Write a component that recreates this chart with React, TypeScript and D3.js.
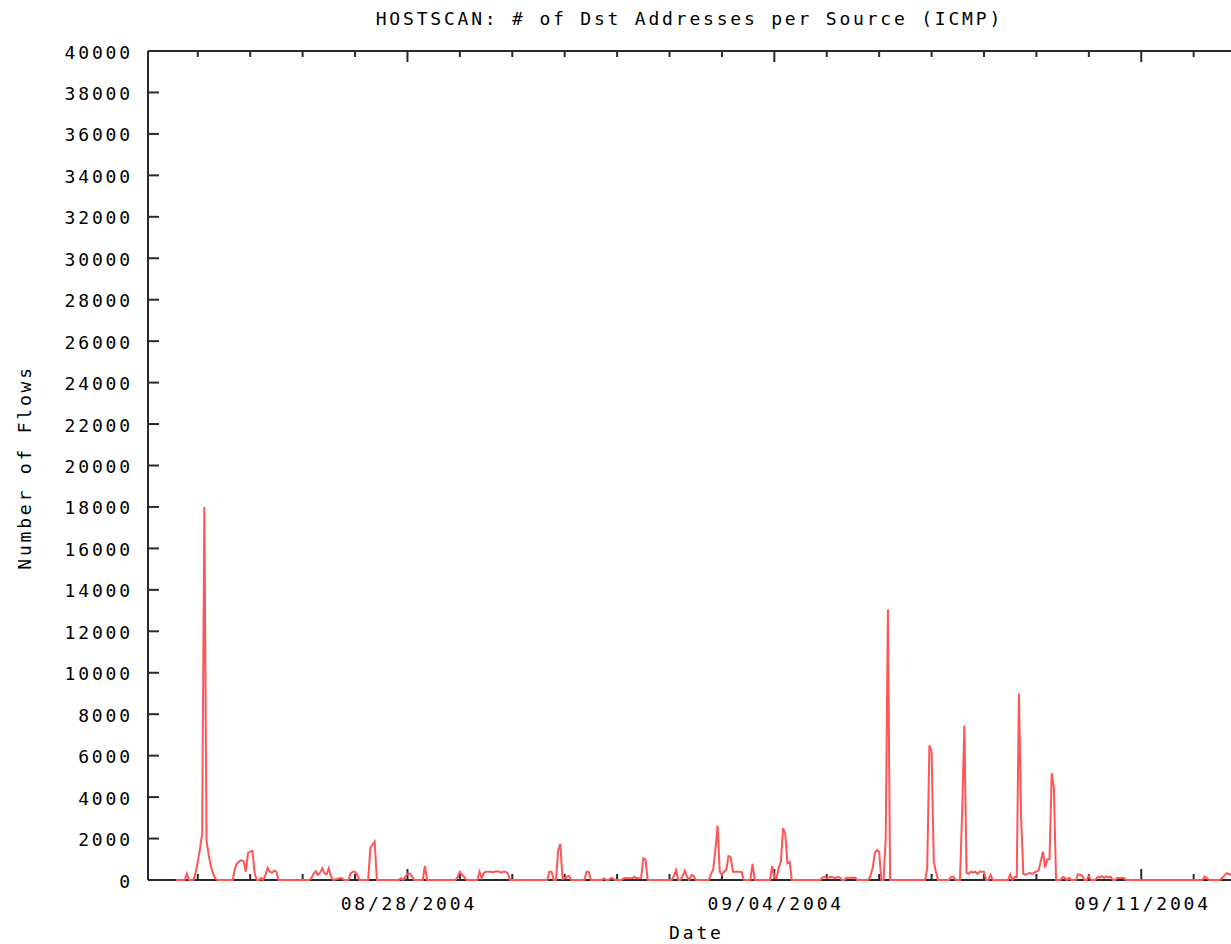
import React from 'react';
import * as d3 from 'd3';

const TITLE = 'HOSTSCAN: # of Dst Addresses per Source (ICMP)';
const X_LABEL = 'Date';
const Y_LABEL = 'Number of Flows';

// time origin: hours below are counted from 2004-08-23 00:00
const START_MS = Date.UTC(2004, 7, 23, 0, 0);
const DOMAIN_START = Date.UTC(2004, 7, 23, 1, 12);
const DOMAIN_END = Date.UTC(2004, 8, 12, 23, 3);

const hours = [
  14,
  18, 19, 20,
  22, 23, 24, 25, 26, 27, 28, 29, 30, 31, 32, 33,
  40, 41, 42, 43, 44, 45, 46, 47, 48, 49, 50, 51,
  52, 53, 54, 55, 56, 57, 58, 59, 60, 61,
  75, 76, 77, 78, 79, 80, 81, 82, 83, 84, 85, 86,
  89, 90, 91,
  93, 94, 95, 96, 97, 98,
  102, 103, 104, 105, 106,
  116, 117, 118, 119, 120, 121, 122, 123,
  127, 128, 129,
  142, 143, 144, 145, 146, 147,
  152, 153, 154, 155, 156, 157, 158, 159, 160, 161, 162, 163, 164, 165, 166, 167,
  184, 185, 186, 187, 188, 189, 190, 191, 192, 193, 194, 195,
  201, 202, 203, 204,
  209, 210, 211,
  212, 213, 214, 215,
  218, 219, 220, 221, 222, 223, 224, 225, 226, 227, 228, 229, 230,
  241, 242, 243, 244,
  245, 246, 247, 248, 249, 250, 251, 252,
  258, 259, 260, 261, 262, 263, 264, 265, 266, 267, 268, 269, 270, 271, 272, 273, 274,
  277, 278, 279,
  286, 287, 288, 289, 290, 291, 292, 293, 294, 295, 296,
  309, 310, 311, 312, 313, 314, 315, 316, 317, 318, 319,
  320, 321, 322, 323, 324, 325, 326,
  331, 332, 333, 334, 335, 336, 337,
  338, 339, 340, 341,
  357, 358, 359, 360, 361, 362, 363,
  368, 369, 370, 371,
  373, 374, 375, 376, 377, 378, 379, 380, 381, 382, 383, 384, 385,
  386, 387, 388,
  395, 396, 397, 398, 399, 400, 401, 402, 403, 404, 405, 406, 407, 408, 409, 410, 411, 412, 413, 414, 415, 416, 417,
  419, 420, 421, 422, 423, 424,
  426, 427, 428, 429, 430, 431, 432, 433,
  435, 436, 437, 438, 439, 440, 441, 442, 443,
  444, 445, 446, 447, 448, 449,
  484, 485, 486, 487,
  492, 493, 494, 495, 496, 497, 498, 499, 503,
];

const flows = [
  0,
  0, 300, 0,
  0, 320, 900, 1500, 2250, 18000, 1900, 1200, 650, 300, 80, 0,
  0, 560, 800, 900, 960, 900, 400, 1290, 1370, 1410, 350, 0,
  0, 100, 0, 250, 580, 400, 350, 450, 400, 0,
  0, 80, 300, 420, 250, 350, 560, 320, 280, 560, 150, 0,
  80, 80, 0,
  0, 320, 400, 400, 250, 0,
  0, 1550, 1700, 1850, 0,
  0, 80, 0, 150, 300, 320, 200, 0,
  0, 680, 0,
  0, 150, 400, 250, 150, 0,
  0, 400, 100, 350, 400, 400, 400, 380, 400, 420, 400, 350, 400, 400, 300, 0,
  0, 400, 400, 0, 0, 1400, 1750, 50, 100, 150, 200, 0,
  0, 400, 400, 0,
  0, 80, 0,
  0, 80, 80, 0,
  0, 80, 100, 80, 80, 100, 150, 80, 80, 100, 1050, 980, 0,
  0, 200, 480, 0,
  0, 200, 450, 150, 0, 240, 200, 0,
  0, 300, 500, 1450, 2620, 400, 250, 400, 500, 1160, 1100, 400, 400, 400, 400, 380, 0,
  0, 780, 0,
  0, 680, 100, 100, 600, 900, 2500, 2250, 800, 880, 0,
  0, 120, 150, 100, 120, 150, 120, 100, 150, 120, 0,
  0, 110, 110, 110, 110, 110, 0,
  0, 200, 560, 1300, 1450, 1350, 0,
  0, 2050, 13050, 0,
  0, 560, 6500, 6200, 880, 400, 0,
  0, 160, 160, 0,
  0, 3300, 7450, 350, 300, 400, 350, 400, 300, 400, 400, 400, 0,
  0, 250, 0,
  0, 270, 0, 150, 150, 9000, 3000, 300, 250, 300, 350, 300, 350, 400, 450, 900, 1370, 600, 1000, 1000, 5150, 4450, 0,
  0, 150, 100, 0, 100, 0,
  0, 270, 250, 200, 0, 0, 190, 0,
  0, 150, 120, 190, 100, 170, 130, 150, 0,
  0, 100, 100, 100, 100, 0,
  0, 160, 100, 0,
  0, 100, 200, 320, 300, 250, 200, 150, 0,
];

const yTicks = [0, 2000, 4000, 6000, 8000, 10000, 12000, 14000, 16000, 18000, 20000,
  22000, 24000, 26000, 28000, 30000, 32000, 34000, 36000, 38000, 40000];
const majorTickDates = [Date.UTC(2004, 7, 28), Date.UTC(2004, 8, 4), Date.UTC(2004, 8, 11)];
const majorTickLabels = ['08/28/2004', '09/04/2004', '09/11/2004'];

const W = 1231;
const H = 944;
const M = { left: 148, right: 1244, top: 51, bottom: 880 };
const FONT = '"DejaVu Sans Mono", "Liberation Mono", monospace';
const LS = 2.8;
const AXIS = '#2a2a2a';
const RED = '#ff5555';

export default function App() {
  const x = d3.scaleUtc()
    .domain([new Date(DOMAIN_START), new Date(DOMAIN_END)])
    .range([M.left, M.right]);
  const y = d3.scaleLinear().domain([0, 40000]).range([M.bottom, M.top]);

  const pts: [number, number][] = hours.map((h, i) => [
    x(new Date(START_MS + h * 3600e3)),
    y(flows[i]),
  ]);
  const path = d3.line().curve(d3.curveLinear)(pts) || '';

  const days = d3.utcDay.range(new Date(DOMAIN_START), new Date(DOMAIN_END));
  const majorSet = new Set(majorTickDates);

  const textStyle = { fontFamily: FONT, fontSize: 18, letterSpacing: `${LS}px`, fill: '#000' } as const;

  return (
    <svg width={W} height={H} style={{ position: 'absolute', left: 0, top: 0, display: 'block', background: '#fff' }}>
      <rect x={0} y={0} width={W} height={H} fill="#fff" />
      {/* frame */}
      <g stroke={AXIS} strokeWidth={2} fill="none">
        <line x1={M.left} y1={M.top} x2={M.right} y2={M.top} />
        <line x1={M.left} y1={M.bottom} x2={M.right} y2={M.bottom} />
        <line x1={M.left} y1={M.top} x2={M.left} y2={M.bottom} />
        <line x1={M.right} y1={M.top} x2={M.right} y2={M.bottom} />
        {yTicks.map((t) => (
          <g key={'yt' + t}>
            <line x1={M.left} x2={M.left + 11} y1={y(t)} y2={y(t)} />
            <line x1={M.right} x2={M.right - 11} y1={y(t)} y2={y(t)} />
          </g>
        ))}
        {days.map((d) => {
          const xx = x(d);
          const len = majorSet.has(d.getTime()) ? 11 : 6;
          return (
            <g key={'xt' + d.getTime()}>
              <line x1={xx} x2={xx} y1={M.top} y2={M.top + len} />
              <line x1={xx} x2={xx} y1={M.bottom} y2={M.bottom - len} />
            </g>
          );
        })}
      </g>
      {/* y tick labels */}
      {yTicks.map((t) => (
        <text key={'yl' + t} x={130 + LS} y={y(t) + 7.5} textAnchor="end" style={textStyle}>
          {t}
        </text>
      ))}
      {/* x tick labels */}
      {majorTickDates.map((d, i) => (
        <text key={'xl' + d} x={x(new Date(d)) + LS / 2} y={909.5} textAnchor="middle" style={textStyle}>
          {majorTickLabels[i]}
        </text>
      ))}
      {/* data */}
      <path d={path} fill="none" stroke={RED} strokeWidth={2} strokeLinejoin="miter" />
      {/* titles */}
      <text x={688 + LS / 2} y={25} textAnchor="middle" style={textStyle}>{TITLE}</text>
      <text x={695 + LS / 2} y={939} textAnchor="middle" style={textStyle}>{X_LABEL}</text>
      <text transform={`translate(31, ${466 + LS / 2}) rotate(-90)`} textAnchor="middle" style={textStyle}>
        {Y_LABEL}
      </text>
    </svg>
  );
}
